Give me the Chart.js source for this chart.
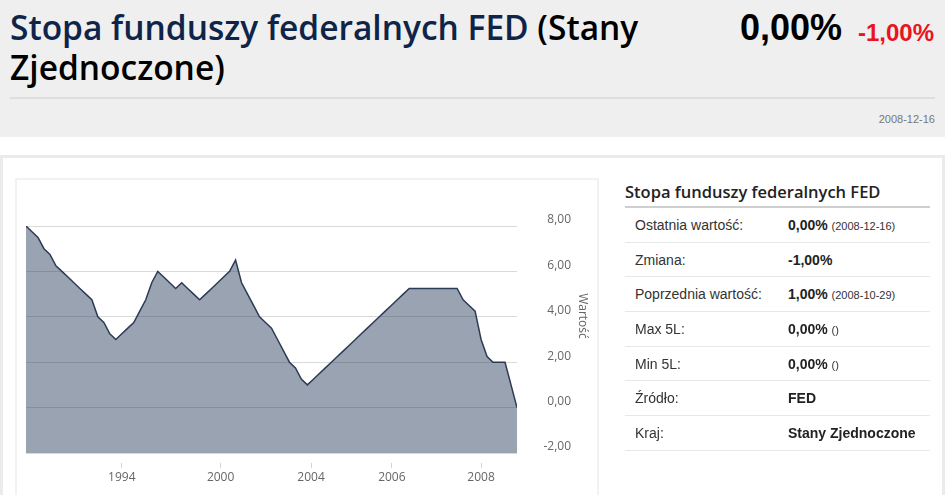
<!DOCTYPE html>
<html lang="pl">
<head>
<meta charset="utf-8">
<script src="https://cdn.jsdelivr.net/npm/chart.js@4.4.1/dist/chart.umd.min.js"></script>
<style>
body { margin: 0; width: 945px; height: 495px; overflow: hidden; background: #fff; font-family: "Liberation Sans", Arial, sans-serif; position: relative; }
.top { position: absolute; left: 0; top: 0; width: 945px; height: 137px; background: #efefef; }
h1 { position: absolute; left: 10px; top: 7px; margin: 0; font-family: "Open Sans", sans-serif; font-weight: 600; font-size: 33.5px; line-height: 40px; color: #000; }
h1 span { color: #0e2449; }
.big { position: absolute; right: 103px; top: 7px; font-weight: bold; font-size: 36px; color: #000; }
.chg { position: absolute; right: 11px; top: 19px; font-weight: bold; font-size: 24px; color: #e8141e; }
.rule { position: absolute; left: 10px; top: 97px; width: 925px; height: 2px; background: #dedede; }
.date { position: absolute; right: 10px; top: 113px; font-size: 11px; color: #777; }
.panel { position: absolute; left: 0; top: 155px; width: 939px; height: 360px; border: 3px solid #ebebeb; }
.box { position: absolute; left: 15px; top: 178px; width: 580px; height: 330px; border: 2px solid #f2f2f2; }
#wrap { position: absolute; left: 16px; top: 179px; width: 580px; height: 316px; }
.ytitle { position: absolute; left: 583px; top: 316px; transform: translate(-50%, -50%) rotate(90deg); font-family: "Open Sans", sans-serif; font-size: 12px; color: #666; white-space: nowrap; }
.side { position: absolute; left: 625px; top: 179px; width: 305px; }
.side h2 { margin: 0; font-family: "Open Sans", sans-serif; font-weight: 600; font-size: 16.5px; line-height: 25px; color: #222; padding-bottom: 2px; border-bottom: 2px solid #cfcfcf; }
.row { height: 34.67px; box-sizing: border-box; border-bottom: 1px solid #e8e8e8; position: relative; font-size: 14px; color: #333; }
.row .k { position: absolute; left: 10px; top: 9px; }
.row .v { position: absolute; left: 163px; top: 9px; font-weight: bold; color: #222; }
.row .v small { font-weight: normal; font-size: 11px; color: #333; }
</style>
</head>
<body>
<div class="top">
  <h1><span>Stopa funduszy federalnych FED</span> (Stany<br>Zjednoczone)</h1>
  <div class="big">0,00%</div>
  <div class="chg">-1,00%</div>
  <div class="rule"></div>
  <div class="date">2008-12-16</div>
</div>
<div class="panel"></div>
<div class="box"></div>
<div id="wrap"><canvas id="MyChart" width="580" height="316"></canvas></div>
<div class="ytitle">Wartość</div>
<div class="side">
  <h2>Stopa funduszy federalnych FED</h2>
  <div class="row"><span class="k">Ostatnia wartość:</span><span class="v">0,00% <small>(2008-12-16)</small></span></div>
  <div class="row"><span class="k">Zmiana:</span><span class="v">-1,00%</span></div>
  <div class="row"><span class="k">Poprzednia wartość:</span><span class="v">1,00% <small>(2008-10-29)</small></span></div>
  <div class="row"><span class="k">Max 5L:</span><span class="v">0,00% <small>()</small></span></div>
  <div class="row"><span class="k">Min 5L:</span><span class="v">0,00% <small>()</small></span></div>
  <div class="row"><span class="k">Źródło:</span><span class="v">FED</span></div>
  <div class="row"><span class="k">Kraj:</span><span class="v">Stany Zjednoczone</span></div>
</div>
<script>
// stopa FED, kolejne punkty (os porzadkowa, rowne odstepy)
const rateValues = [
    8.00, 7.75, 7.50, 7.00, 6.75, 6.25, 6.00, 5.75, 5.50, 5.25,
    5.00, 4.75, 4.00, 3.75, 3.25, 3.00, 3.25, 3.50, 3.75, 4.25,
    4.75, 5.50, 6.00, 5.75, 5.50, 5.25, 5.50, 5.25, 5.00, 4.75,
    5.00, 5.25, 5.50, 5.75, 6.00, 6.50, 5.50, 5.00, 4.50, 4.00,
    3.75, 3.50, 3.00, 2.50, 2.00, 1.75, 1.25, 1.00, 1.25, 1.50,
    1.75, 2.00, 2.25, 2.50, 2.75, 3.00, 3.25, 3.50, 3.75, 4.00,
    4.25, 4.50, 4.75, 5.00, 5.25, 5.25, 5.25, 5.25, 5.25, 5.25,
    5.25, 5.25, 5.25, 4.75, 4.50, 4.25, 3.00, 2.25, 2.00, 2.00,
    2.00, 1.00, 0.00
];
const tickPositions = [16, 32.5, 47.6, 61.1, 76];
const tickYears = ['1994', '2000', '2004', '2006', '2008'];
const yTicks = [-2, 0, 2, 4, 6, 8];

const points = rateValues.map((v, i) => ({x: i, y: v}));

const config = {
    type: 'line',
    data: {
        datasets: [{
            label: 'Wartość',
            data: points,
            borderColor: '#2b3b55',
            borderWidth: 1.5,
            backgroundColor: 'rgba(40,60,90,0.47)',
            fill: {value: -2},
            pointRadius: 0,
            tension: 0
        }]
    },
    options: {
        responsive: false,
        animation: false,
        layout: {padding: {left: 10, top: 47, right: 25, bottom: 0}},
        plugins: {legend: {display: false}, tooltip: {enabled: false}},
        scales: {
            x: {
                type: 'linear',
                min: 0,
                max: rateValues.length - 1,
                afterBuildTicks: s => { s.ticks = tickPositions.map(v => ({value: v})); },
                afterFit: s => { s.height = 32; },
                grid: {drawOnChartArea: false, color: '#c8d4e2', tickLength: 5},
                border: {display: false},
                ticks: {
                    color: '#666',
                    font: {size: 12, family: 'Open Sans'},
                    padding: 2,
                    maxRotation: 0,
                    autoSkip: false,
                    callback: (v, i) => tickYears[i]
                }
            },
            y: {
                position: 'right',
                min: -2.44,
                max: 8,
                afterBuildTicks: s => { s.ticks = yTicks.map(v => ({value: v})); },
                afterFit: s => { s.width = 54; },
                grid: {color: '#d9d9d9', drawTicks: false},
                border: {display: false},
                ticks: {
                    color: '#666',
                    font: {size: 12, family: 'Open Sans'},
                    padding: 5,
                    crossAlign: 'far',
                    labelOffset: -6,
                    callback: v => v.toFixed(2).replace('.', ',')
                }
            }
        }
    }
};

const myChart = new Chart(document.getElementById('MyChart'), config);
</script>
</body>
</html>
